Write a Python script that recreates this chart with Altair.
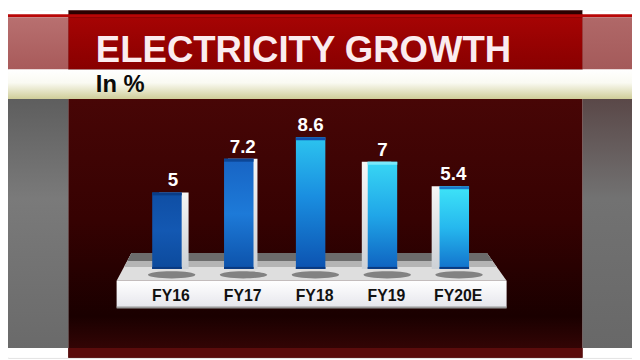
import altair as alt
import pandas as pd

# ---------------- data ----------------
categories = ["FY16", "FY17", "FY18", "FY19", "FY20E"]
growth = [5, 7.2, 8.6, 7, 5.4]
value_text = ["5", "7.2", "8.6", "7", "5.4"]
title_text = "ELECTRICITY GROWTH"
unit_text = "In %"

df = pd.DataFrame({"cat": categories, "val": growth, "label": value_text})

# ---------------- styles ----------------
FONT = "Liberation Sans, Arial, sans-serif"
W, H = 632, 352

bar_stops = {
    "FY16": [(0, "#0f4ea4"), (0.5, "#1358b2"), (1, "#0c4a9c")],
    "FY17": [(0, "#1864c4"), (0.5, "#1d7ad8"), (1, "#0d52aa")],
    "FY18": [(0, "#2cc4ef"), (0.45, "#1a8ee0"), (1, "#0c52b0")],
    "FY19": [(0, "#38d6f4"), (0.5, "#20a6e8"), (1, "#0f62c0")],
    "FY20E": [(0, "#3ee4f8"), (0.5, "#26b8ee"), (1, "#1272cc")],
}
cap_color = {"FY16": "#0a3c86", "FY17": "#0c4696", "FY18": "#0f4fae",
             "FY19": "#7ae8fa", "FY20E": "#1a78c8"}
side_off = {"FY16": 7, "FY17": 4, "FY18": 0, "FY19": -6, "FY20E": -8}
label_dx = {"FY16": 6, "FY17": 4, "FY18": 0, "FY19": 0, "FY20E": -1}


def grad(stops, vertical=True):
    return alt.LinearGradient(
        gradient="linear",
        stops=[alt.GradientStop(color=c, offset=o) for o, c in stops],
        x1=0, y1=0, x2=0 if vertical else 1, y2=1 if vertical else 0,
    )


one = alt.InlineData(values=[{"k": 1}])


def panel(x, x2, y, y2, fill):
    return alt.Chart(one).mark_rect(fill=fill, strokeWidth=0).encode(
        x=alt.value(x), x2=alt.value(x2), y=alt.value(y), y2=alt.value(y2)
    )


xs = alt.Scale(domain=categories, range=[124.6, 488.4], paddingInner=0.59, paddingOuter=0.295)
ys = alt.Scale(domain=[0, 10], range=[262, 107])
X = alt.X("cat:N", scale=xs, axis=None)
Y = alt.Y("val:Q", scale=ys, axis=None)
Y0 = alt.Y("zero:Q", scale=ys, axis=None)

layers = []
# background
layers.append(panel(61, 582, 0, H, grad([(0, "#2c0000"), (0.03, "#2c0000"), (0.25, "#480606"),
                                           (0.6, "#360202"), (0.88, "#1a0000"), (1, "#3a0606")])))
layers.append(panel(0, 61, 90, 342, grad([(0, "#5e5e5e"), (0.4, "#7a7a7a"), (1, "#6a6a6a")])))
layers.append(panel(582, W, 90, 342, grad([(0, "#5a4848"), (0.4, "#727272"), (1, "#686868")])))
layers.append(panel(0, 61, 0, 4, "#ffffff"))
layers.append(panel(582, W, 0, 4, "#ffffff"))
layers.append(panel(0, 61, 342, H, "#ffffff"))
layers.append(panel(582, W, 342, H, "#ffffff"))
layers.append(panel(61, 582, 342, H, "#5a0c0c"))
# title band
layers.append(panel(0, W, 4, 7, "#b80606"))
layers.append(panel(61, 582, 7, 60, grad([(0, "#a60404"), (1, "#880000")])))
layers.append(panel(0, 61, 7, 60, grad([(0, "#b87070"), (1, "#a85a5a")])))
layers.append(panel(582, W, 7, 60, grad([(0, "#b06868"), (1, "#a45a5a")])))
layers.append(panel(0, W, 60, 90, grad([(0, "#ffffff"), (0.45, "#fafaf2"), (1, "#cfcd98")])))

# platform top (trapezoid in three tones) and front face
trap_full = "M-1,0.0709 L1,0.0709 L0.899,-0.0709 L-0.924,-0.0709 Z"
trap_mid = "M-0.962,0.0 L0.9495,0.0 L0.899,-0.0709 L-0.924,-0.0709 Z"
trap_back = "M-0.946,-0.03 L0.928,-0.03 L0.899,-0.0709 L-0.924,-0.0709 Z"
for shp, col in [(trap_full, "#dedede"), (trap_mid, "#b4b4b4"), (trap_back, "#6c6c6c")]:
    layers.append(
        alt.Chart(one).mark_point(shape=shp, size=395 * 395, filled=True, opacity=1, strokeWidth=0,
                                  fill=col)
        .encode(x=alt.value(307.5), y=alt.value(260))
    )
layers.append(panel(110, 505, 274, 301, grad([(0, "#ffffff"), (1, "#e6e6ec")])))
layers.append(panel(110, 505, 300, 302, "#9a9a9a"))

base = alt.Chart(df).transform_calculate(zero="0")

# shadows under bars
shadow = "M-0.8,0.25 A1,0.15 0 1,0 1.2,0.25 A1,0.15 0 1,0 -0.8,0.25 Z"
layers.append(
    base.mark_point(shape=shadow, size=2304, filled=True, fill="#262626", opacity=0.5, strokeWidth=0)
    .encode(x=X, y=Y0)
)

# bars with a white side face, caps and value labels
for c in categories:
    sub = base.transform_filter(alt.datum.cat == c)
    off = side_off[c]
    if off != 0:
        layers.append(sub.mark_bar(xOffset=off, fill=grad([(0, "#f6f6f6"), (1, "#cdd1d6")]))
                      .encode(x=X, y=Y))
    layers.append(sub.mark_bar(fill=grad(bar_stops[c])).encode(x=X, y=Y))
    layers.append(sub.mark_tick(thickness=3, size=30, yOffset=1.5, color=cap_color[c], opacity=1)
                  .encode(x=X, y=Y))
    layers.append(sub.mark_tick(thickness=2, size=30, yOffset=-1, color="#0a3a80", opacity=1)
                  .encode(x=X, y=Y0))
    layers.append(
        sub.mark_text(baseline="bottom", dy=-2, dx=label_dx[c], font=FONT, fontSize=19,
                      fontWeight="bold", color="#ffffff")
        .encode(x=X, y=Y, text="label:N")
    )

# category labels
layers.append(
    base.mark_text(baseline="middle", dx=4, font=FONT, fontSize=16, fontWeight="bold", color="#111111")
    .encode(x=X, y=alt.value(290), text="cat:N")
)

# title and unit
tdat = alt.InlineData(values=[{"t": title_text, "u": unit_text}])
layers.append(
    alt.Chart(tdat).mark_text(align="left", baseline="alphabetic", font=FONT, fontSize=37,
                              fontWeight="bold", color="#fbecef")
    .encode(x=alt.value(89), y=alt.value(52), text="t:N")
)
layers.append(
    alt.Chart(tdat).mark_text(align="left", baseline="alphabetic", font=FONT, fontSize=24,
                              fontWeight="bold", color="#0a0a0a")
    .encode(x=alt.value(89), y=alt.value(83), text="u:N")
)

chart = alt.layer(*layers).properties(
    width=W, height=H, autosize=alt.AutoSizeParams(type="none"), padding=0
).configure_view(stroke=None).configure(background="#ffffff")

chart.save("out.html", embed_options={"renderer": "svg", "actions": False})
